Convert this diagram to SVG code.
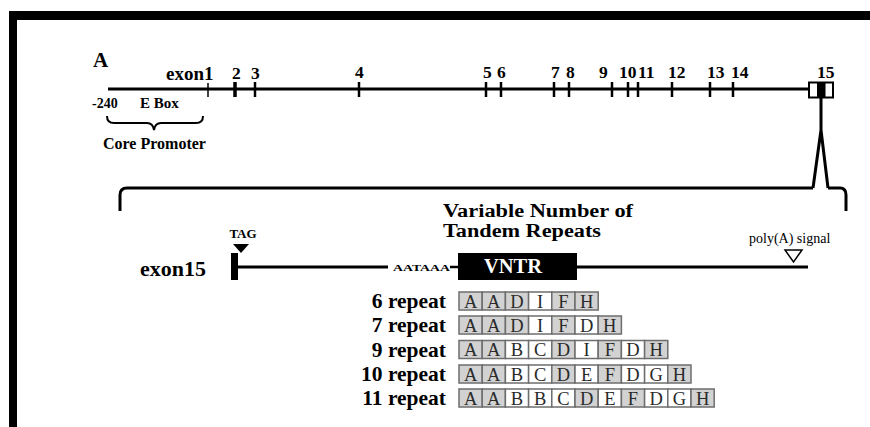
<svg xmlns="http://www.w3.org/2000/svg" width="870" height="427" viewBox="0 0 870 427">
<style>
.b{font-family:"Liberation Serif",serif;font-weight:bold;fill:#000}
.n{font-family:"Liberation Serif",serif;fill:#000}
.ln{stroke:#000;fill:none}
.g{fill:#d2d2d2;stroke:#6e6e6e;stroke-width:1.5}
.w{fill:#fff;stroke:#6e6e6e;stroke-width:1.5}
.cl{font-family:"Liberation Serif",serif;font-size:18.5px;fill:#2a2a2a;text-anchor:middle}
.rl{font-family:"Liberation Serif",serif;font-weight:bold;font-size:21.5px;text-anchor:end}
</style>
<defs>
<rect id="cg" width="23.2" height="18" class="g"/>
<rect id="cw" width="23.2" height="18" class="w"/>
</defs>
<rect width="870" height="427" fill="#fff"/>
<rect x="9" y="11" width="861" height="9" fill="#000"/>
<rect x="9" y="11" width="8" height="416" fill="#000"/>

<g id="panel-label"><text class="b" x="93" y="67" font-size="21">A</text></g>

<g id="gene">
<line class="ln" x1="108" y1="89" x2="808" y2="89" stroke-width="3"/>
<g stroke="#000">
<line x1="208" y1="83" x2="208" y2="97" stroke-width="1.5"/>
<line x1="235" y1="82" x2="235" y2="97" stroke-width="3.5"/>
<line x1="255" y1="82" x2="255" y2="97" stroke-width="2.5"/>
<line x1="359" y1="82" x2="359" y2="97" stroke-width="2.5"/>
<line x1="486" y1="82" x2="486" y2="97" stroke-width="2.5"/>
<line x1="501" y1="82" x2="501" y2="97" stroke-width="2.5"/>
<line x1="554" y1="82" x2="554" y2="97" stroke-width="2.5"/>
<line x1="569" y1="82" x2="569" y2="97" stroke-width="2.5"/>
<line x1="612" y1="82" x2="612" y2="97" stroke-width="2.5"/>
<line x1="628" y1="82" x2="628" y2="97" stroke-width="2.5"/>
<line x1="638" y1="82" x2="638" y2="97" stroke-width="2.5"/>
<line x1="672" y1="82" x2="672" y2="97" stroke-width="2.5"/>
<line x1="710" y1="82" x2="710" y2="97" stroke-width="2.5"/>
<line x1="733" y1="82" x2="733" y2="97" stroke-width="2.5"/>
</g>
<rect x="809" y="82.5" width="24" height="15" fill="#fff" stroke="#000" stroke-width="2"/>
<rect x="817" y="82.5" width="8.5" height="15" fill="#000"/>
<g class="b" font-size="17.5">
<text x="166" y="80" font-size="19">exon1</text>
<text x="232" y="79">2</text>
<text x="251" y="79">3</text>
<text x="355" y="78">4</text>
<text x="483" y="78">5</text>
<text x="497" y="78">6</text>
<text x="551" y="78">7</text>
<text x="566" y="78">8</text>
<text x="599" y="78">9</text>
<text x="619" y="78">10</text>
<text x="638" y="78">11</text>
<text x="668" y="78">12</text>
<text x="707" y="78">13</text>
<text x="731" y="78">14</text>
<text x="817" y="78">15</text>
</g>
<text class="b" x="92" y="108" font-size="14">-240</text>
<text class="b" x="140" y="108" font-size="15">E Box</text>
<path class="ln" stroke-width="2" d="M107,116 Q107,123 114,123 L147,123 Q153,123 154,130 Q155,123 161,123 L196,123 Q203,123 203,116"/>
<text class="b" x="103" y="149" font-size="16">Core Promoter</text>
</g>

<g id="connectors">
<path class="ln" stroke-width="3" stroke-linejoin="round" d="M821,98 L821,130 M813,188 L821,130 L828,188"/>
<path class="ln" stroke-width="3" d="M120,211 L120,195 Q120,188 127,188 L813,188 M828,188 L840,188 Q846,188 846,195 L846,211"/>
</g>

<g id="exon15">
<text class="b" x="140" y="276" font-size="22">exon15</text>
<text class="b" x="243" y="238" font-size="13" text-anchor="middle">TAG</text>
<polygon points="233,244 249,244 241,253" fill="#000"/>
<rect x="231" y="253" width="7" height="27" fill="#000"/>
<line class="ln" x1="237" y1="267" x2="388" y2="267" stroke-width="3"/>
<text class="b" x="393" y="270.5" font-size="9" textLength="57" lengthAdjust="spacingAndGlyphs">AATAAA</text>
<line class="ln" x1="450" y1="267" x2="459" y2="267" stroke-width="2.5"/>
<rect x="458" y="253" width="119" height="27" fill="#000"/>
<text class="b" x="484" y="273" font-size="20.5" style="fill:#fff">VNTR</text>
<line class="ln" x1="577" y1="267" x2="808" y2="267" stroke-width="3"/>
<text class="b" x="443" y="217" font-size="18" textLength="190" lengthAdjust="spacingAndGlyphs">Variable Number of</text>
<text class="b" x="443" y="237" font-size="18" textLength="158" lengthAdjust="spacingAndGlyphs">Tandem Repeats</text>
<text class="n" x="749" y="243" font-size="14">poly(A) signal</text>
<polygon points="785,250 802,250 793.5,262" fill="#fff" stroke="#000" stroke-width="1.5"/>
</g>

<g id="repeat-6">
<text class="rl" x="446" y="308">6 repeat</text>
<use href="#cg" x="459" y="292"/><use href="#cg" x="482.2" y="292"/><use href="#cg" x="505.4" y="292"/><use href="#cw" x="528.6" y="292"/><use href="#cg" x="551.8" y="292"/><use href="#cg" x="575" y="292"/>
<g class="cl"><text x="470.6" y="307.5">A</text><text x="493.8" y="307.5">A</text><text x="517" y="307.5">D</text><text x="540.2" y="307.5">I</text><text x="563.4" y="307.5">F</text><text x="586.6" y="307.5">H</text></g>
</g>

<g id="repeat-7">
<text class="rl" x="446" y="332">7 repeat</text>
<use href="#cg" x="459" y="316"/><use href="#cg" x="482.2" y="316"/><use href="#cg" x="505.4" y="316"/><use href="#cw" x="528.6" y="316"/><use href="#cg" x="551.8" y="316"/><use href="#cw" x="575" y="316"/><use href="#cg" x="598.2" y="316"/>
<g class="cl"><text x="470.6" y="331.5">A</text><text x="493.8" y="331.5">A</text><text x="517" y="331.5">D</text><text x="540.2" y="331.5">I</text><text x="563.4" y="331.5">F</text><text x="586.6" y="331.5">D</text><text x="609.8" y="331.5">H</text></g>
</g>

<g id="repeat-9">
<text class="rl" x="446" y="356.5">9 repeat</text>
<use href="#cg" x="459" y="340.5"/><use href="#cg" x="482.2" y="340.5"/><use href="#cw" x="505.4" y="340.5"/><use href="#cw" x="528.6" y="340.5"/><use href="#cg" x="551.8" y="340.5"/><use href="#cw" x="575" y="340.5"/><use href="#cg" x="598.2" y="340.5"/><use href="#cw" x="621.4" y="340.5"/><use href="#cg" x="644.6" y="340.5"/>
<g class="cl"><text x="470.6" y="356">A</text><text x="493.8" y="356">A</text><text x="517" y="356">B</text><text x="540.2" y="356">C</text><text x="563.4" y="356">D</text><text x="586.6" y="356">I</text><text x="609.8" y="356">F</text><text x="633" y="356">D</text><text x="656.2" y="356">H</text></g>
</g>

<g id="repeat-10">
<text class="rl" x="446" y="381">10 repeat</text>
<use href="#cg" x="459" y="365"/><use href="#cg" x="482.2" y="365"/><use href="#cw" x="505.4" y="365"/><use href="#cw" x="528.6" y="365"/><use href="#cg" x="551.8" y="365"/><use href="#cw" x="575" y="365"/><use href="#cg" x="598.2" y="365"/><use href="#cw" x="621.4" y="365"/><use href="#cw" x="644.6" y="365"/><use href="#cg" x="667.8" y="365"/>
<g class="cl"><text x="470.6" y="380.5">A</text><text x="493.8" y="380.5">A</text><text x="517" y="380.5">B</text><text x="540.2" y="380.5">C</text><text x="563.4" y="380.5">D</text><text x="586.6" y="380.5">E</text><text x="609.8" y="380.5">F</text><text x="633" y="380.5">D</text><text x="656.2" y="380.5">G</text><text x="679.4" y="380.5">H</text></g>
</g>

<g id="repeat-11">
<text class="rl" x="446" y="405">11 repeat</text>
<use href="#cg" x="459" y="389"/><use href="#cg" x="482.2" y="389"/><use href="#cw" x="505.4" y="389"/><use href="#cw" x="528.6" y="389"/><use href="#cw" x="551.8" y="389"/><use href="#cg" x="575" y="389"/><use href="#cw" x="598.2" y="389"/><use href="#cg" x="621.4" y="389"/><use href="#cw" x="644.6" y="389"/><use href="#cw" x="667.8" y="389"/><use href="#cg" x="691" y="389"/>
<g class="cl"><text x="470.6" y="404.5">A</text><text x="493.8" y="404.5">A</text><text x="517" y="404.5">B</text><text x="540.2" y="404.5">B</text><text x="563.4" y="404.5">C</text><text x="586.6" y="404.5">D</text><text x="609.8" y="404.5">E</text><text x="633" y="404.5">F</text><text x="656.2" y="404.5">D</text><text x="679.4" y="404.5">G</text><text x="702.6" y="404.5">H</text></g>
</g>
</svg>
